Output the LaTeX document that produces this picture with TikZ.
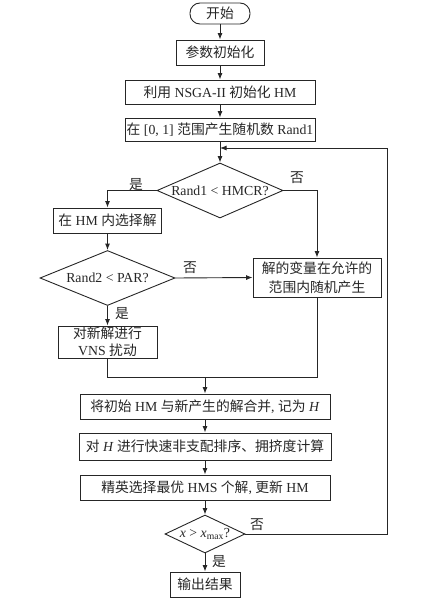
\documentclass[tikz,border=0pt]{standalone}
\usepackage{fontspec}
\setmainfont{Liberation Serif}
\newfontfamily\cjk{Noto Sans CJK SC}
\usetikzlibrary{shapes.geometric,arrows.meta}
\newcommand{\zh}[1]{{\cjk #1}}

\begin{document}
\begin{tikzpicture}
	[x=1pt, y=-1pt, line width=0.9pt, draw=black!85, >={Latex[length=6.5pt,width=5pt]},
	 every node/.style={font=\fontsize{13.8}{19}\selectfont, text=black!85},
	 box/.style={rectangle, draw, inner sep=1pt},
	 term/.style={rectangle, draw, rounded corners=10pt, minimum width=60pt, minimum height=21pt},
	 dec/.style={diamond, draw, inner sep=0pt, aspect=2.3},
	 lbl/.style={inner sep=0pt}]
	\useasboundingbox (0,0) rectangle (428,600);
	\node[term] (S) at (220,13.5) {\zh{开始}};
	\node[box, minimum width=88pt, minimum height=25pt] (P) at (220,52.5) {\zh{参数初始化}};
	\node[box, minimum width=190pt, minimum height=24pt] (N) at (220,92) {\zh{利用} NSGA-II \zh{初始化} HM};
	\node[box, minimum width=190pt, minimum height=23pt] (R) at (220,129.5) {\zh{在} [0, 1] \zh{范围产生随机数} Rand1};
	\node[dec, minimum width=126pt, minimum height=55pt] (D1) at (220,190.5) {Rand1 {<} HMCR?};
	\node[box, minimum width=108pt, minimum height=25pt] (H) at (107.5,220.5) {\zh{在} HM \zh{内选择解}};
	\node[box, minimum width=128pt, minimum height=39pt, align=center] (G) at (317,277.5) {\zh{解的变量在允许的}\\\zh{范围内随机产生}};
	\node[dec, minimum width=135pt, minimum height=55pt] (D2) at (107.5,278) {Rand2 {<} PAR?};
	\node[box, minimum width=99pt, minimum height=32pt, align=center, font=\fontsize{13.8}{17}\selectfont] (V) at (107.5,342) {\zh{对新解进行}\\VNS \zh{扰动}};
	\node[box, minimum width=250pt, minimum height=25pt] (M) at (205,406.5) {\zh{将初始} HM \zh{与新产生的解合并}, \zh{记为} \textit{H}};
	\node[box, minimum width=252pt, minimum height=27pt] (F) at (205,446.5) {\zh{对} \textit{H} \zh{进行快速非支配排序、拥挤度计算}};
	\node[box, minimum width=250pt, minimum height=25pt] (E) at (205,487.5) {\zh{精英选择最优} HMS \zh{个解}, \zh{更新} HM};
	\node[dec, minimum width=80pt, minimum height=38pt, aspect=2.1] (D3) at (205,534) {\textit{x} {>} \textit{x}\textsubscript{max}?};
	\node[box, minimum width=70pt, minimum height=25pt] (O) at (205,584.5) {\zh{输出结果}};
	\coordinate (J) at (205,377);
	\coordinate (B) at (387,148);
	\coordinate (L) at (220,148);
	\node[lbl] (Y1) at (136,185) {\zh{是}};
	\node[lbl] (N1) at (297,178) {\zh{否}};
	\node[lbl] (N2) at (190,268) {\zh{否}};
	\node[lbl] (Y2) at (122,314) {\zh{是}};
	\node[lbl] (N3) at (257,525) {\zh{否}};
	\node[lbl] (Y3) at (219,562) {\zh{是}};
	\draw[->] (S) -- (P);
	\draw[->] (P) -- (N);
	\draw[->] (N) -- (R);
	\draw[->] (R) -- (D1);
	\draw[->] (D1.west) -| (H);
	\draw[->] (D1.east) -| (G);
	\draw[->] (H) -- (D2);
	\draw[->] (D2.east) -- (G.west);
	\draw[->] (D2) -- (V);
	\draw (V.south) |- (J);
	\draw (G.south) |- (J);
	\draw[->] (J) -- (M);
	\draw[->] (M) -- (F);
	\draw[->] (F) -- (E);
	\draw[->] (E) -- (D3);
	\draw[->] (D3) -- (O);
	\draw[->] (D3.east) -| (B) -- (L);
\end{tikzpicture}
\end{document}
